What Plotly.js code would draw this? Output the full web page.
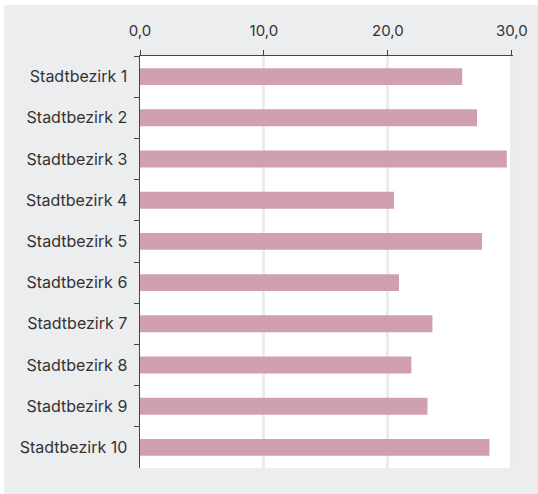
<!DOCTYPE html>
<html><head><meta charset="utf-8">
<script src="https://cdn.plot.ly/plotly-3.0.1.min.js"></script>
<style>
html,body{margin:0;padding:0;background:#ffffff;}
#chart{position:absolute;left:4px;top:5px;width:534px;height:489px;}
</style>
</head><body>
<div id="chart"></div>
<script>
const categories = ["Stadtbezirk 1","Stadtbezirk 2","Stadtbezirk 3","Stadtbezirk 4","Stadtbezirk 5","Stadtbezirk 6","Stadtbezirk 7","Stadtbezirk 8","Stadtbezirk 9","Stadtbezirk 10"];
const values = [26.0, 27.2, 29.6, 20.5, 27.6, 20.9, 23.6, 21.9, 23.2, 28.2];
const xTicks = [0, 10, 20, 30];

const trace = {
  type: "bar",
  orientation: "h",
  x: values,
  y: categories,
  marker: {color: "#d19fb2"},
  hoverinfo: "none"
};

const layout = {
  width: 534, height: 489,
  margin: {l: 136, r: 25, t: 51, b: 26, pad: 0},
  paper_bgcolor: "#ecedef",
  plot_bgcolor: "#ffffff",
  separators: ",.",
  bargap: 0.59,
  showlegend: false,
  font: {family: "Inter, 'Noto Sans', sans-serif", size: 15, color: "#333333"},
  xaxis: {
    side: "top",
    range: [0, 30.1],
    tickvals: xTicks,
    tickformat: ".1f",
    showgrid: true,
    gridcolor: "#ececec",
    gridwidth: 3,
    zeroline: false,
    showline: true,
    linecolor: "#444444",
    linewidth: 1.5,
    ticks: "outside",
    ticklen: 5,
    tickcolor: "#444444",
    tickfont: {size: 15, color: "#333333"},
    ticklabelstandoff: 8
  },
  yaxis: {
    autorange: "reversed",
    showgrid: false,
    zeroline: false,
    showline: true,
    linecolor: "#444444",
    linewidth: 1.5,
    ticks: "outside",
    tickson: "boundaries",
    ticklen: 5,
    tickcolor: "#444444",
    tickfont: {size: 16, color: "#333333"},
    ticklabelstandoff: 8
  }
};

Plotly.newPlot("chart", [trace], layout, {staticPlot: true, displayModeBar: false});
</script>
</body></html>
